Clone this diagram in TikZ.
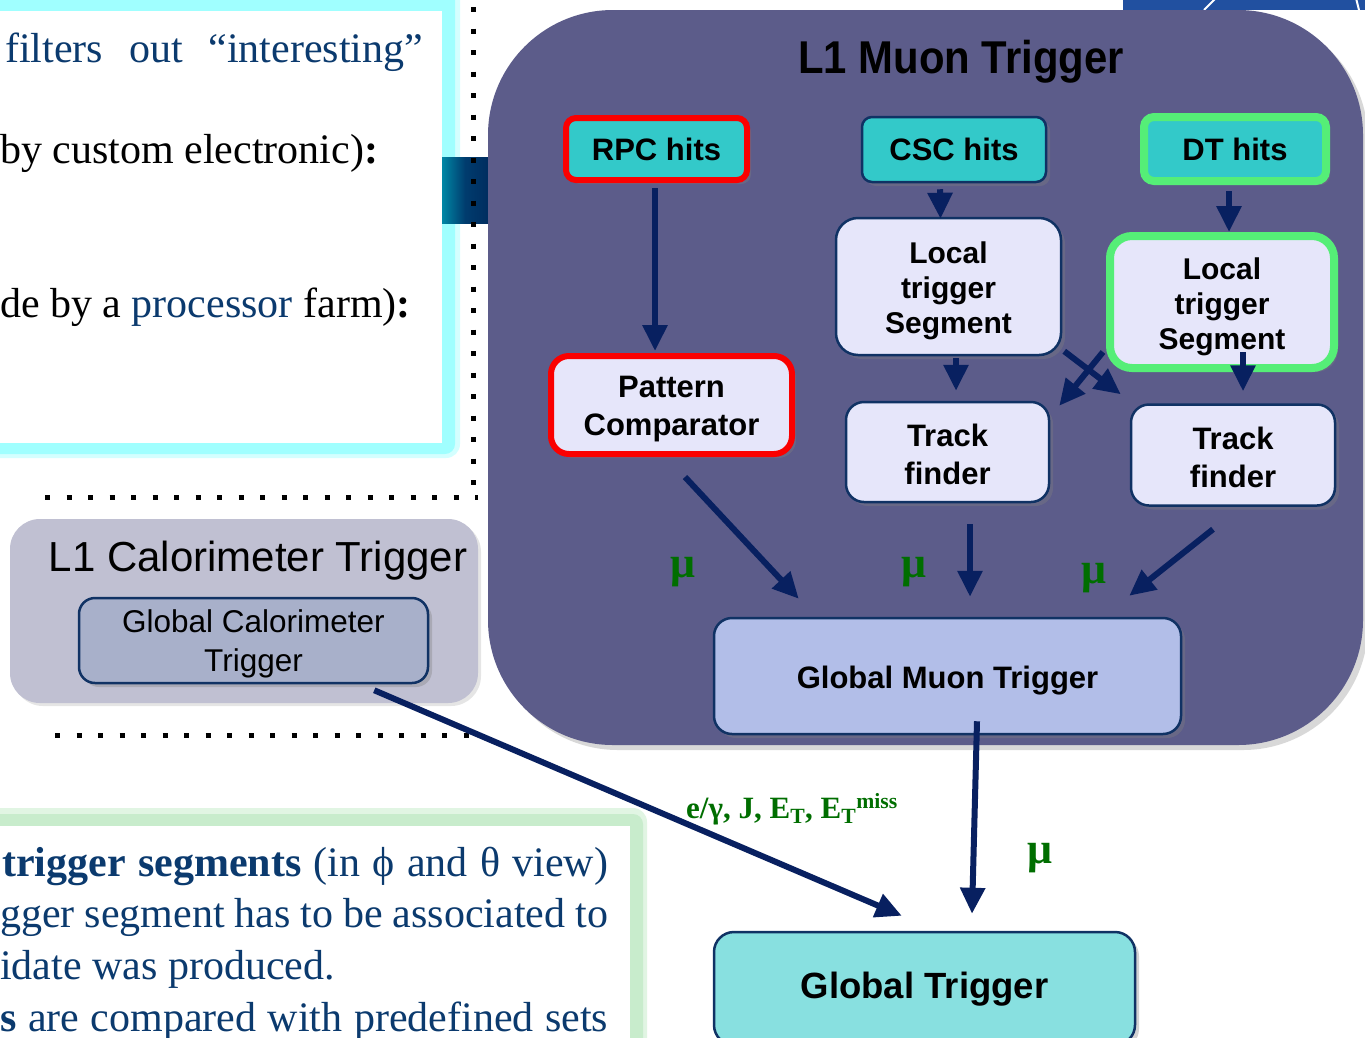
\documentclass[tikz,border=0pt]{standalone}
\usepackage{fontspec}
\setmainfont{Liberation Serif}
\newfontfamily\arial{Liberation Sans}
\newfontfamily\arialc[FakeStretch=0.91]{Liberation Sans}
\usetikzlibrary{arrows.meta,shadows,calc}
\definecolor{tblue}{RGB}{11,58,110}
\definecolor{muonbg}{RGB}{92,92,138}
\definecolor{hitfill}{RGB}{51,201,201}
\definecolor{lav}{RGB}{230,230,250}
\definecolor{boxline}{RGB}{16,50,100}
\definecolor{redc}{RGB}{250,0,0}
\definecolor{greenc}{RGB}{85,238,119}
\definecolor{navy}{RGB}{8,32,96}
\definecolor{gmtfill}{RGB}{178,190,232}
\definecolor{gtfill}{RGB}{136,224,224}
\definecolor{caloout}{RGB}{192,192,210}
\definecolor{gctfill}{RGB}{168,176,202}
\definecolor{cyanglow}{RGB}{160,255,255}
\definecolor{greenglow}{RGB}{200,236,204}
\definecolor{mugreen}{RGB}{0,110,0}
\definecolor{imgblue}{RGB}{33,80,160}
% shift node text down without changing its box
\newcommand{\dnbox}[2]{\raisebox{-#1}[\height][\depth]{\begin{tabular}{@{}c@{}}#2\end{tabular}}}
\begin{document}
\begin{tikzpicture}[x=1pt,y=-1pt,
  shadowed/.style={drop shadow={shadow xshift=4pt,shadow yshift=-4pt,opacity=.35}},
  box/.style={draw=boxline,line width=2.5pt,rounded corners=14pt,fill=lav,
    inner sep=0pt,shadowed,font=\arial\bfseries\fontsize{31}{38}\selectfont},
  hitbox/.style={box,fill=hitfill,rounded corners=10pt},
  redbox/.style={draw=redc,line width=6pt},
  greenbox/.style={draw=greenc,line width=8pt},
  arr/.style={draw=navy,line width=6pt,-{Triangle[length=26pt,width=24pt]}},
  mu/.style={text=mugreen,font=\bfseries\fontsize{44}{44}\selectfont,inner sep=0pt},
  serif/.style={anchor=base west,inner sep=0pt,font=\fontsize{42}{42}\selectfont},
  dots/.style={draw=black,line width=5pt,dash pattern=on 5pt off 16.5pt}]
\useasboundingbox (0,0) rectangle (1365,1037);
\clip (0,0) rectangle (1365,1037);
\fill[white] (0,0) rectangle (1365,1037);

% top-right image fragment
\fill[imgblue] (1123,-5) rectangle (1370,10);
\draw[white,line width=2pt] (1204,10) -- (1216,-2);
\draw[white,line width=2pt] (1356,-2) -- (1359,10);

% top-left text box
\fill[cyanglow!45!white,rounded corners=14pt] (-30,-30) rectangle (460,458);
\fill[cyanglow,rounded corners=10pt] (-30,-30) rectangle (455,454);
\fill[white] (-30,11) rectangle (442,443);
\node[serif,text=tblue] (t1) at (5,62) {\makebox[418pt][s]{filters out “interesting”}};
\node[serif] (t2) at (0,163) {by custom electronic)\textbf{:}};
\node[serif] (t3) at (0,317) {de by a \textcolor{tblue}{processor} farm)\textbf{:}};

% tab
\shade[left color={rgb,255:red,0;green,135;blue,165},right color={rgb,255:red,0;green,45;blue,95},middle color={rgb,255:red,0;green,60;blue,110}] (442,157) rectangle (488,223);

% dotted lines
\draw[dots] (473,7) -- (473,492);
\draw[dots] (45,497) -- (478,497);
\draw[dots] (55,735) -- (470,735);

% L1 muon trigger background
\fill[muonbg,rounded corners=125pt,drop shadow={shadow xshift=5pt,shadow yshift=-5pt,opacity=.3}] (488,10) rectangle (1363,745);
\node[font=\arialc\bfseries\fontsize{46}{46}\selectfont,inner sep=0pt] (title) at (961,62) {L1 Muon Trigger};

% hits
\node[hitbox,redbox,minimum width=181pt,minimum height=62pt] (rpc) at (656.5,149) {RPC hits};
\node[hitbox,minimum width=184pt,minimum height=65pt] (csc) at (954,149.5) {CSC hits};
\node[hitbox,greenbox,minimum width=182pt,minimum height=64pt] (dt) at (1235,149) {DT hits};

% local trigger segments
\node[box,minimum width=225pt,minimum height=137pt,font=\arial\bfseries\fontsize{30}{35}\selectfont,rounded corners=22pt] (lcsc) at (948.5,286.5) {\dnbox{5pt}{Local\\trigger\\Segment}};
\node[box,greenbox,minimum width=224pt,minimum height=132pt,font=\arial\bfseries\fontsize{30}{35}\selectfont,rounded corners=22pt] (ldt) at (1222,302) {\dnbox{5pt}{Local\\trigger\\Segment}};

% pattern comparator, track finders
\node[box,redbox,minimum width=241pt,minimum height=98pt,rounded corners=18pt] (pat) at (671.5,405) {\dnbox{4pt}{Pattern\\Comparator}};
\node[box,minimum width=203pt,minimum height=100pt,rounded corners=18pt] (tf1) at (947.5,452) {\dnbox{6pt}{Track\\finder}};
\node[box,minimum width=204pt,minimum height=101pt,rounded corners=18pt] (tf2) at (1233,455) {\dnbox{6pt}{Track\\finder}};

% global muon trigger
\node[box,fill=gmtfill,minimum width=467pt,minimum height=116pt,rounded corners=18pt] (gmt) at (947.5,676) {\dnbox{5pt}{Global Muon Trigger}};

% calorimeter
\node[fill=caloout,rounded corners=30pt,minimum width=468pt,minimum height=184pt,inner sep=0pt,drop shadow={shadow xshift=3pt,shadow yshift=-3pt,opacity=.2}] (calo) at (244,611) {};
\node[font=\arial\fontsize{42}{42}\selectfont,inner sep=0pt] (ctitle) at (258,561) {L1 Calorimeter Trigger};
\node[draw=boxline,line width=2.5pt,fill=gctfill,rounded corners=16pt,minimum width=349pt,minimum height=85pt,
  inner sep=0pt,shadowed,font=\arial\fontsize{31.5}{39}\selectfont] (gct) at (253.5,640.5) {\dnbox{4pt}{Global Calorimeter\\Trigger}};

% bottom-left text box
\fill[greenglow!55!white,rounded corners=14pt] (-30,808) rectangle (647,1060);
\fill[greenglow,rounded corners=10pt] (-30,814) rectangle (643,1060);
\fill[white] (-30,826) rectangle (630,1060);
\node[serif,text=tblue] (b1) at (2,876) {\makebox[606pt][s]{\textbf{trigger segments} (in ϕ and θ view)}};
\node[serif,text=tblue] (b2) at (0,927) {\makebox[608pt][s]{gger segment has to be associated to}};
\node[serif,text=tblue] (b3) at (0,979) {idate was produced.};
\node[serif,text=tblue] (b4) at (0,1031) {\makebox[608pt][s]{\textbf{s} are compared with predefined sets}};

% global trigger
\node[box,fill=gtfill,minimum width=421pt,minimum height=113pt,rounded corners=20pt,font=\arial\bfseries\fontsize{36.5}{40}\selectfont] (gt) at (924.5,988.5) {\dnbox{2pt}{Global Trigger}};

% labels
\node[mu] (mu1) at (683,572) {μ};
\node[mu] (mu2) at (914,572) {μ};
\node[mu] (mu3) at (1094,578) {μ};
\node[mu] (mu4) at (1040,858) {μ};
\node[anchor=base west,inner sep=0pt,text=mugreen,font=\bfseries\fontsize{31}{31}\selectfont] (eg) at (686,818)
  {e/γ, J, E\textsubscript{T}, E\textsubscript{T}\textsuperscript{miss}};

% arrows
\draw[arr] ($(rpc.south)+(-1.5,5)$) -- ($(pat.north)+(-16.5,-2)$);
\draw[arr] ($(csc.south)+(-14,6)$) -- ($(lcsc.north)+(-8,2)$);
\draw[arr] ($(dt.south)+(-6,6)$) -- ($(ldt.north)+(7,0)$);
\draw[arr] ($(lcsc.south)+(7.5,2)$) -- ($(tf1.north)+(8.5,-10)$);
\draw[arr] ($(ldt.south)+(21,-20)$) -- ($(tf2.north)+(10,-12)$);
\draw[arr] ($(lcsc.south east)+(2,-5)$) -- ($(tf2.north west)+(-9,-9)$);
\draw[arr] ($(ldt.south west)+(-3,-20)$) -- ($(tf1.north east)+(9,5)$);
\draw[arr] ($(pat.south)+(13.5,20)$) -- ($(gmt.north west)+(86,-18)$);
\draw[arr] ($(tf1.south)+(22.5,21)$) -- ($(gmt.north)+(22.5,-20)$);
\draw[arr] ($(tf2.south)+(-20,22.5)$) -- ($(gmt.north east)+(-53,-21)$);
\draw[arr] ($(gmt.south)+(29.5,-14)$) -- ($(gt.north)+(47.5,-17)$);
\draw[arr] ($(gct.south east)+(-55,6)$) -- ($(gt.north west)+(189,-15)$);
\end{tikzpicture}
\end{document}
